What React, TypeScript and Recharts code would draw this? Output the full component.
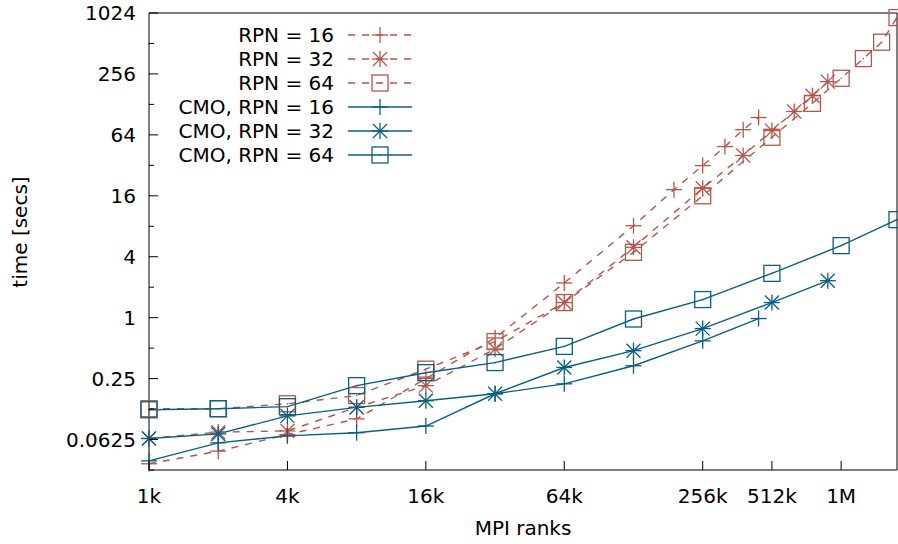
import { Legend, Line, LineChart, XAxis, YAxis } from "recharts";

const RED = "#b5564b";
const BLUE = "#0b5e84";
const DASH = "7 7";
const FONT = "DejaVu Sans";

// MPI ranks and time [secs] per run
const RANKS_RPN16 = [1024, 2048, 4096, 8192, 16384, 32768, 65536, 131072, 196608, 262144, 327680, 393216, 458752];
const TIME_RPN16 = [0.036, 0.048, 0.07, 0.1, 0.25, 0.63, 2.2, 8.1, 18.4, 31.8, 49, 72, 95];

const RANKS_RPN32 = [1024, 2048, 4096, 8192, 16384, 32768, 65536, 131072, 262144, 393216, 524288, 655360, 786432, 917504];
const TIME_RPN32 = [0.064, 0.074, 0.076, 0.13, 0.213, 0.49, 1.41, 4.96, 19, 40, 70.5, 109, 156, 215];

const RANKS_RPN64 = [1024, 2048, 4096, 8192, 16384, 32768, 65536, 131072, 262144, 524288, 786432, 1048576, 1310720, 1572864, 1835008];
const TIME_RPN64 = [0.126, 0.126, 0.141, 0.17, 0.31, 0.58, 1.41, 4.42, 16, 60.6, 131, 232, 363, 527, 923];

const RANKS_CMO16 = [1024, 2048, 4096, 8192, 16384, 32768, 65536, 131072, 262144, 458752];
const TIME_CMO16 = [0.0385, 0.058, 0.068, 0.073, 0.085, 0.177, 0.222, 0.335, 0.59, 0.98];

const RANKS_CMO32 = [1024, 2048, 4096, 8192, 16384, 32768, 65536, 131072, 262144, 524288, 917504];
const TIME_CMO32 = [0.064, 0.071, 0.107, 0.13, 0.151, 0.177, 0.322, 0.472, 0.78, 1.41, 2.32];

const RANKS_CMO64 = [1024, 2048, 4096, 8192, 16384, 32768, 65536, 131072, 262144, 524288, 1048576, 1835008];
const TIME_CMO64 = [0.123, 0.126, 0.132, 0.213, 0.286, 0.36, 0.52, 0.97, 1.51, 2.74, 5.15, 9.3];

const X_TICKS = [1024, 4096, 16384, 65536, 262144, 524288, 1048576];
const X_TICK_LABELS = ["1k", "4k", "16k", "64k", "256k", "512k", "1M"];
const Y_TICKS = [0.03125, 0.0625, 0.125, 0.25, 0.5, 1, 2, 4, 8, 16, 32, 64, 128, 256, 512, 1024];
const Y_TICK_LABELS = ["", "0.0625", "", "0.25", "", "1", "", "4", "", "16", "", "64", "", "256", "", "1024"];

const toRows = (ranks: number[], times: number[]) => ranks.map((n, i) => ({ n, t: times[i] }));

const SERIES = [
  { name: "RPN = 16", rows: toRows(RANKS_RPN16, TIME_RPN16), color: RED, dashed: true, marker: "plus" },
  { name: "RPN = 32", rows: toRows(RANKS_RPN32, TIME_RPN32), color: RED, dashed: true, marker: "star" },
  { name: "RPN = 64", rows: toRows(RANKS_RPN64, TIME_RPN64), color: RED, dashed: true, marker: "box" },
  { name: "CMO, RPN = 16", rows: toRows(RANKS_CMO16, TIME_CMO16), color: BLUE, dashed: false, marker: "plus" },
  { name: "CMO, RPN = 32", rows: toRows(RANKS_CMO32, TIME_CMO32), color: BLUE, dashed: false, marker: "star" },
  { name: "CMO, RPN = 64", rows: toRows(RANKS_CMO64, TIME_CMO64), color: BLUE, dashed: false, marker: "box" },
];

function Marker({ cx, cy, kind, color }: { cx?: number; cy?: number; kind: string; color: string }) {
  if (cx == null || cy == null) return null;
  const r = 8;
  const d = 7;
  if (kind === "plus") {
    return (
      <g stroke={color} strokeWidth={1.3}>
        <line x1={cx - r} y1={cy} x2={cx + r} y2={cy} />
        <line x1={cx} y1={cy - r} x2={cx} y2={cy + r} />
      </g>
    );
  }
  if (kind === "star") {
    return (
      <g stroke={color} strokeWidth={1.3}>
        <line x1={cx - r} y1={cy} x2={cx + r} y2={cy} />
        <line x1={cx} y1={cy - r} x2={cx} y2={cy + r} />
        <line x1={cx - d} y1={cy - d} x2={cx + d} y2={cy + d} />
        <line x1={cx - d} y1={cy + d} x2={cx + d} y2={cy - d} />
      </g>
    );
  }
  return (
    <g>
      <rect x={cx - r} y={cy - r} width={2 * r} height={2 * r} fill="none" stroke={color} strokeWidth={1.3} />
      <rect x={cx - 0.7} y={cy - 0.7} width={1.4} height={1.4} fill={color} />
    </g>
  );
}

const LEFT_MARGIN = 13;
const BOTTOM_MARGIN = 33;

function LeftTick(props: any) {
  const { x, y, payload } = props;
  const i = Y_TICKS.indexOf(payload.value);
  const label = Y_TICK_LABELS[i] ?? "";
  const axisX = x + LEFT_MARGIN;
  return (
    <g>
      <line x1={axisX} x2={axisX + (label ? 9 : 5)} y1={y} y2={y} stroke="#000" strokeWidth={1} />
      {label && (
        <text x={x} y={y} dy="0.35em" textAnchor="end" fontSize={20} fontFamily={FONT} fill="#000">
          {label}
        </text>
      )}
    </g>
  );
}

function RightTick(props: any) {
  const { x, y, payload } = props;
  const i = Y_TICKS.indexOf(payload.value);
  const major = !!Y_TICK_LABELS[i];
  return <line x1={x} x2={x - (major ? 9 : 5)} y1={y} y2={y} stroke="#000" strokeWidth={1} />;
}

function BottomTick(props: any) {
  const { x, y, payload } = props;
  const i = X_TICKS.indexOf(payload.value);
  const axisY = y - BOTTOM_MARGIN;
  return (
    <g>
      <line x1={x} x2={x} y1={axisY} y2={axisY - 9} stroke="#000" strokeWidth={1} />
      <text x={x} y={y} textAnchor="middle" fontSize={20} fontFamily={FONT} fill="#000">
        {X_TICK_LABELS[i]}
      </text>
    </g>
  );
}

function TopTick(props: any) {
  const { x, y } = props;
  return <line x1={x} x2={x} y1={y} y2={y + 9} stroke="#000" strokeWidth={1} />;
}

function LegendBox() {
  return (
    <svg width={430} height={170} style={{ display: "block" }}>
      {SERIES.map((s, i) => {
        const y = 35 + i * 24;
        return (
          <g key={s.name}>
            <text x={334} y={y} dy="0.35em" textAnchor="end" fontSize={20} fontFamily={FONT} fill="#000">
              {s.name}
            </text>
            <line x1={348} x2={412} y1={y} y2={y} stroke={s.color} strokeWidth={1.4} strokeDasharray={s.dashed ? DASH : undefined} />
            <Marker cx={380} cy={y} kind={s.marker} color={s.color} />
          </g>
        );
      })}
    </svg>
  );
}

export default function App() {
  return (
    <div style={{ position: "absolute", left: 0, top: 0, width: 898, height: 544, background: "#fff", fontFamily: FONT }}>
      <LineChart width={898} height={544} margin={{ top: 12, right: 0, bottom: 0, left: 0 }}>
        <XAxis
          dataKey="n"
          type="number"
          scale="log"
          domain={[1024, 1835008]}
          ticks={X_TICKS}
          interval={0}
          height={74}
          tickSize={0}
          tickMargin={BOTTOM_MARGIN}
          tickLine={false}
          tick={BottomTick}
          axisLine={{ stroke: "#000", strokeWidth: 1 }}
          label={{ value: "MPI ranks", position: "insideBottom", offset: 9, fontSize: 20, fill: "#000", fontFamily: FONT }}
        />
        <XAxis
          xAxisId="top"
          orientation="top"
          dataKey="n"
          type="number"
          scale="log"
          domain={[1024, 1835008]}
          ticks={X_TICKS}
          interval={0}
          height={1}
          tickSize={0}
          tickMargin={0}
          tickLine={false}
          tick={TopTick}
          axisLine={{ stroke: "#000", strokeWidth: 1 }}
        />
        <YAxis
          type="number"
          scale="log"
          domain={[0.03125, 1024]}
          ticks={Y_TICKS}
          interval={0}
          width={149}
          tickSize={0}
          tickMargin={LEFT_MARGIN}
          tickLine={false}
          tick={LeftTick}
          axisLine={{ stroke: "#000", strokeWidth: 1 }}
          label={{
            content: (p: any) => {
              const vb = p.viewBox || { x: 0, y: 13, width: 149, height: 457 };
              const cx = vb.x + 20;
              const cy = vb.y + vb.height / 2 - 9.5;
              return (
                <text x={cx} y={cy} dy="0.35em" textAnchor="middle" fontSize={20} fontFamily={FONT} fill="#000" transform={`rotate(-90, ${cx}, ${cy})`}>
                  time [secs]
                </text>
              );
            },
          }}
        />
        <YAxis
          yAxisId="right"
          orientation="right"
          type="number"
          scale="log"
          domain={[0.03125, 1024]}
          ticks={Y_TICKS}
          interval={0}
          width={1}
          tickSize={0}
          tickMargin={0}
          tickLine={false}
          tick={RightTick}
          axisLine={{ stroke: "#000", strokeWidth: 1 }}
        />
        <Legend
          verticalAlign="middle"
          align="center"
          layout="horizontal"
          wrapperStyle={{ left: 0, top: 0, width: 430, height: 170 }}
          content={() => <LegendBox />}
        />
        {SERIES.map((s) => (
          <Line
            key={s.name}
            name={s.name}
            data={s.rows}
            dataKey="t"
            type="linear"
            stroke={s.color}
            strokeWidth={1.4}
            strokeDasharray={s.dashed ? DASH : undefined}
            isAnimationActive={false}
            activeDot={false}
            dot={(p: any) => <Marker key={`${s.name}-${p.index}`} cx={p.cx} cy={p.cy} kind={s.marker} color={s.color} />}
          />
        ))}
      </LineChart>
    </div>
  );
}
